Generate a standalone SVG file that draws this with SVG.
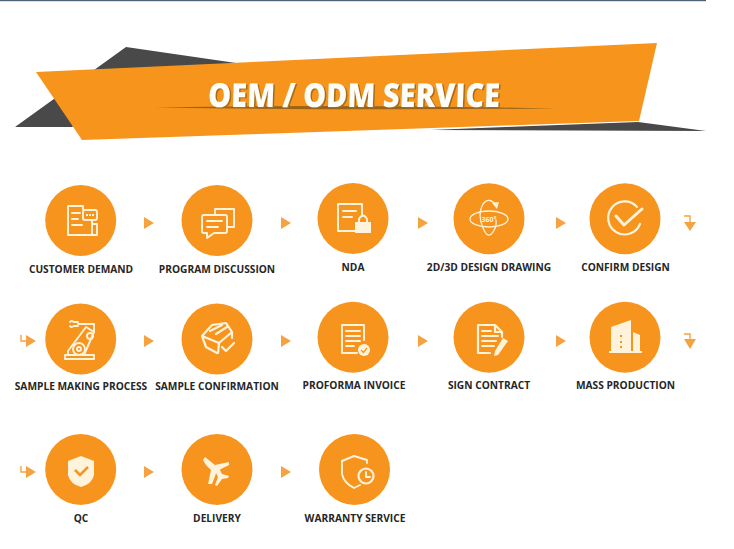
<svg xmlns="http://www.w3.org/2000/svg" width="734" height="549" viewBox="0 0 734 549">
<style>
.c{fill:#f7941e}
.a{fill:#f5a342}
.al{fill:none;stroke:#f5a342;stroke-width:1.4}
.t{font-family:"Open Sans","Liberation Sans",sans-serif;font-weight:700;font-size:10.2px;fill:#262626;text-anchor:middle}
.i{fill:none;stroke:#fff3dc;stroke-width:1.9;stroke-linejoin:round;stroke-linecap:round}
.f{fill:#fff3dc}
.h{font-family:"Open Sans","Liberation Sans",sans-serif;font-weight:800;font-size:33px}
</style>
<defs>
<filter id="soft" x="-5%" y="-5%" width="110%" height="110%"><feGaussianBlur stdDeviation="0.35"/></filter>
<filter id="st" x="-5%" y="-300%" width="110%" height="700%"><feGaussianBlur stdDeviation="0.7"/></filter>
</defs>
<rect width="734" height="549" fill="#fff"/>
<rect x="0" y="0" width="706" height="1.2" fill="#4d6178"/>
<g id="banner" filter="url(#soft)">
<path d="M126 47L236 63L100 110L72 127L15 127Z" fill="#484848"/>
<path d="M430 130L638 122L706 131Z" fill="#484848"/>
<path d="M36 72L657 43L639 121L82 140Z" fill="#f7941e"/>
<path d="M155 107.500Q355 104 556 108.500Q355 110.500 155 107.500Z" fill="#9a6418" filter="url(#st)"/>
<text class="h" x="209.500" y="108" textLength="292" lengthAdjust="spacingAndGlyphs" transform="skewX(-2) translate(3.500 0)" fill="#a86c18">OEM / ODM SERVICE</text>
<text class="h" x="208" y="107" textLength="292" lengthAdjust="spacingAndGlyphs" transform="skewX(-2) translate(3.500 0)" fill="#fffdf8">OEM / ODM SERVICE</text>
</g>
<g id="connectors">
<path class="a" d="M144 217L154 223L144 229Z"/>
<path class="a" d="M281 217L291 223L281 229Z"/>
<path class="a" d="M418 217L428 223L418 229Z"/>
<path class="a" d="M556 217L566 223L556 229Z"/>
<path class="al" d="M684 216H690V222"/><path class="a" d="M684 222H696L690 231Z"/>
<path class="al" d="M21 335V341H27"/><path class="a" d="M26 335L36 341L26 347Z"/>
<path class="a" d="M144 335L154 341L144 347Z"/>
<path class="a" d="M281 335L291 341L281 347Z"/>
<path class="a" d="M418 335L428 341L418 347Z"/>
<path class="a" d="M556 335L566 341L556 347Z"/>
<path class="al" d="M684 334H690V340"/><path class="a" d="M684 339H696L690 349Z"/>
<path class="al" d="M21 466V472H27"/><path class="a" d="M26 466L36 472L26 478Z"/>
<path class="a" d="M144 466L154 472L144 478Z"/>
<path class="a" d="M281 466L291 472L281 478Z"/>
</g>
<g id="customer-demand">
<circle class="c" cx="80.7" cy="220.500" r="35.5"/>
<path class="i" d="M83 209V206H68V235H92V221M72 213H80M72 219H78M72 225H82M92 224H97V235H92"/>
<rect class="i" x="83" y="210" width="14" height="10" rx="2"/>
<path class="f" d="M86 214h2v2h-2zM89 214h2v2h-2zM92 214h2v2h-2z"/>
<text class="t" x="81" y="273">CUSTOMER DEMAND</text>
</g>
<g id="program-discussion">
<circle class="c" cx="217" cy="220.500" r="35.5"/>
<path class="i" d="M215 214V209H234V227H227"/>
<path class="i" d="M204 215H225Q227 215 227 217V231Q227 233 225 233H214L207 238V233H204Q202 233 202 231V217Q202 215 204 215ZM207 221H222M207 227H218"/>
<text class="t" x="217" y="273">PROGRAM DISCUSSION</text>
</g>
<g id="nda">
<circle class="c" cx="353" cy="218.500" r="35.5"/>
<path class="i" d="M356 231H338V204H362V216M343 211H356M343 217H352"/>
<path class="f" d="M355 222H371V233H355Z"/>
<path class="i" d="M359 222V219Q363 212 367 219V222"/>
<text class="t" x="353" y="271">NDA</text>
</g>
<g id="design-drawing">
<circle class="c" cx="489" cy="218.700" r="35.5"/>
<ellipse class="i" cx="489" cy="219" rx="19" ry="8" style="stroke-width:1.3"/>
<path class="i" style="stroke-width:1.3" d="M497 206Q489 196 483 204Q477 214 483 228Q488 240 493 232Q497 226 496 220"/>
<path class="f" d="M492 203L499 202L497 209Z"/>
<text x="489" y="221.500" text-anchor="middle" font-family="'Open Sans','Liberation Sans',sans-serif" font-weight="700" font-size="7" fill="#fff3dc">360°</text>
<text class="t" x="489" y="271">2D/3D DESIGN DRAWING</text>
</g>
<g id="confirm-design">
<circle class="c" cx="625" cy="218.700" r="35.500"/>
<path class="i" style="stroke-width:2.200" d="M637 207A16.500 16.500 0 1 0 640 224"/>
<path class="i" style="stroke-width:3" d="M616 216L624 225L642 209"/>
<text class="t" x="625.500" y="271">CONFIRM DESIGN</text>
</g>
<g id="sample-making-process">
<circle class="c" cx="80.7" cy="339" r="35.5"/>
<rect class="i" x="65" y="355" width="29" height="4"/>
<path class="i" d="M68 355V351L86 327L94 332L84 355"/>
<circle class="i" cx="79" cy="349" r="6"/><circle class="i" cx="79" cy="349" r="2"/>
<circle class="i" cx="90" cy="336" r="3"/>
<path class="i" d="M94 332V324H78M78 322H74Q71 320 70 322M78 326H74Q71 328 70 326"/>
<text class="t" x="81" y="390">SAMPLE MAKING PROCESS</text>
</g>
<g id="sample-confirmation">
<circle class="c" cx="217" cy="339" r="35.5"/>
<path class="i" style="stroke-width:2.200" d="M217 353L206 347L202 336L212 325L226 323L232 332L232 338M202 336L219 343L232 332M219 343L218 353M210 331L222 325M216 334L227 327"/>
<path class="i" style="stroke-width:2.200" d="M222 347L226 351L234 343"/>
<text class="t" x="217" y="390">SAMPLE CONFIRMATION</text>
</g>
<g id="proforma-invoice">
<circle class="c" cx="353" cy="337.300" r="35.5"/>
<path class="i" d="M357 353H342V325H364V340"/>
<path class="i" d="M346 331H360M346 336H360M346 341H360M346 346H354"/>
<circle class="f" cx="364" cy="350" r="6"/>
<path d="M361 350L363.500 352.500L367 348" fill="none" stroke="#f7941e" stroke-width="1.400"/>
<text class="t" x="354" y="389">PROFORMA INVOICE</text>
</g>
<g id="sign-contract">
<circle class="c" cx="489" cy="337.300" r="35.5"/>
<path class="i" style="stroke-width:2.200" d="M490 353H478V325H495L502 332V337M495 325V332H502"/>
<path class="i" d="M482 331H491M482 336H498M482 341H496M482 346H494"/>
<path class="f" d="M503 338L508 341L498 355L494 356L495 351Z"/>
<text class="t" x="489" y="389">SIGN CONTRACT</text>
</g>
<g id="mass-production">
<circle class="c" cx="625" cy="337.300" r="35.5"/>
<path class="f" d="M611 351V327L631 320V351ZM633 332L640 335V351H633ZM609 351H642V353H609Z"/>
<path d="M620 335h2v2h-2zM620 341h2v2h-2zM620 346h2v2h-2z" fill="#f7941e"/>
<text class="t" x="625.500" y="389">MASS PRODUCTION</text>
</g>
<g id="qc">
<circle class="c" cx="80.7" cy="469.500" r="35.5"/>
<path class="f" d="M81 456L94 461V475Q92 484 81 487Q70 484 68 475V461Z"/>
<path d="M75 470L80 475L88 467" fill="none" stroke="#f7941e" stroke-width="2.500"/>
<text class="t" x="81" y="521.500">QC</text>
</g>
<g id="delivery">
<circle class="c" cx="217" cy="469.500" r="35.5"/>
<path class="f" d="M203 460L205 457L215 465L229 462L229 465L217 471L212 484L208 484L211 470L206 465ZM215 471L219 468L222 474L229 476L228 478L222 479L217 486L215 485L218 477Z"/>
<text class="t" x="217" y="521.500">DELIVERY</text>
</g>
<g id="warranty-service">
<circle class="c" cx="354.500" cy="469.500" r="35.5"/>
<path class="i" d="M367 463V460L354 456L342 461V474Q344 483 354 488L360 485"/>
<circle class="i" cx="366" cy="476" r="7.500" style="stroke-width:2.200"/>
<path class="i" d="M366 472V477H370"/>
<text class="t" x="355" y="521.500">WARRANTY SERVICE</text>
</g>
</svg>
